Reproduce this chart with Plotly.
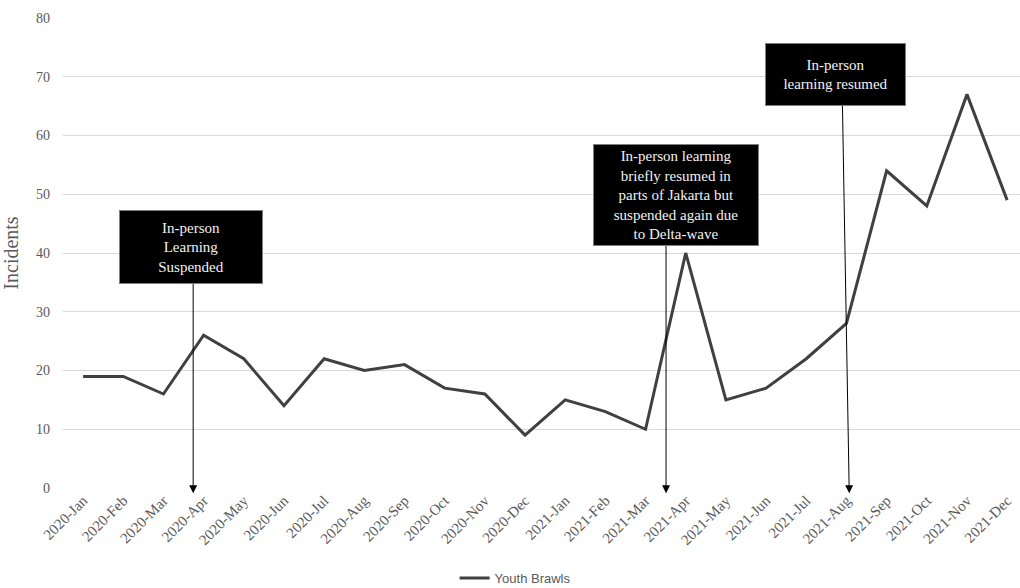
import plotly.graph_objects as go

# Monthly youth brawl incidents, Jakarta
months = [
    "2020-Jan", "2020-Feb", "2020-Mar", "2020-Apr", "2020-May", "2020-Jun",
    "2020-Jul", "2020-Aug", "2020-Sep", "2020-Oct", "2020-Nov", "2020-Dec",
    "2021-Jan", "2021-Feb", "2021-Mar", "2021-Apr", "2021-May", "2021-Jun",
    "2021-Jul", "2021-Aug", "2021-Sep", "2021-Oct", "2021-Nov", "2021-Dec",
]
youth_brawls = [19, 19, 16, 26, 22, 14, 22, 20, 21, 17, 16, 9,
                15, 13, 10, 40, 15, 17, 22, 28, 54, 48, 67, 49]

y_ticks = [0, 10, 20, 30, 40, 50, 60, 70, 80]

# Event notes: text, box centre (category index, value), arrow tail and tip
event_text = [
    "In-person<br>Learning<br>Suspended",
    "In-person learning<br>briefly resumed in<br>parts of Jakarta but<br>suspended again due<br>to Delta-wave",
    "In-person<br>learning resumed",
]
box_x = [2.69, 14.76, 18.73]
box_y = [41.1, 49.9, 70.4]
box_w = [140, 162, 137]
box_h = [70, 98, 59]
tail_x = [2.74, 14.51, 18.9]
tail_y = [35.2, 41.5, 65.4]
tip_x = [2.74, 14.51, 19.07]
tip_y = [-0.9, -0.9, -0.9]

serif = "Liberation Serif, Times New Roman, serif"
grey = "#595959"

fig = go.Figure()
fig.add_trace(go.Scatter(
    x=months, y=youth_brawls, mode="lines", name="Youth Brawls",
    line=dict(color="#404040", width=3),
))

annotations = []
for i in range(len(event_text)):
    # arrow from box to the timeline
    annotations.append(dict(
        x=tip_x[i], y=tip_y[i], xref="x", yref="y",
        ax=tail_x[i], ay=tail_y[i], axref="x", ayref="y",
        text="", showarrow=True, arrowhead=2, arrowsize=1.6,
        arrowwidth=1, arrowcolor="#000000", standoff=0,
    ))
    # black label box
    annotations.append(dict(
        x=box_x[i], y=box_y[i], xref="x", yref="y",
        text=event_text[i], showarrow=False,
        width=box_w[i], height=box_h[i], bgcolor="#000000",
        bordercolor="#7f7f7f", borderwidth=1,
        font=dict(family=serif, size=15, color="#f2f2f2"),
        align="center", valign="middle",
    ))

fig.update_layout(
    width=1020, height=588,
    margin=dict(l=63, r=0, t=18, b=100),
    paper_bgcolor="white", plot_bgcolor="white",
    showlegend=True,
    legend=dict(orientation="h", xref="container", x=0.505, xanchor="center",
                yref="container", y=0.017, yanchor="middle", itemwidth=30,
                font=dict(family="Liberation Sans, Arial, sans-serif", size=13, color=grey)),
    xaxis=dict(
        type="category", range=[-0.5, 23.32], tickangle=-45, automargin=False,
        showgrid=False, showline=False, zeroline=False, ticks="",
        tickfont=dict(family=serif, size=15, color=grey),
    ),
    yaxis=dict(
        range=[0, 80], tickvals=y_ticks, showgrid=True, gridcolor="#d9d9d9",
        gridwidth=1, zeroline=False, showline=False, ticks="", automargin=False,
        ticklabelstandoff=12,
        tickfont=dict(family=serif, size=14, color=grey),
        title=dict(text="Incidents", font=dict(family=serif, size=20, color=grey), standoff=12),
    ),
    annotations=annotations,
)

fig.write_html("out.html")
